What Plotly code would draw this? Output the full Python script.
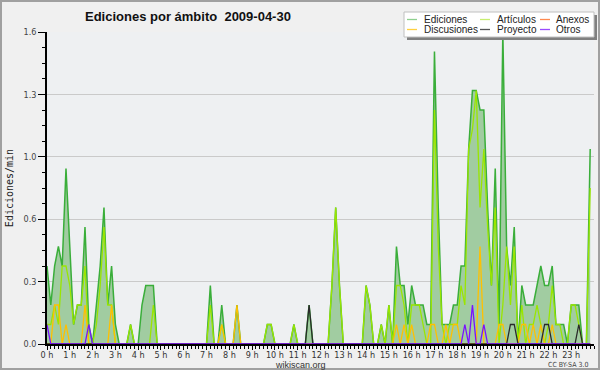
import plotly.graph_objects as go

# ---- data: edits per minute, 10-minute buckets (one row = one hour) ----
minutes = list(range(0, 1440, 10))

ediciones = [
    0.4, 0.2, 0.4, 0.5, 0.4, 0.9,
    0.5, 0.1, 0.2, 0.2, 0.6, 0.1,
    0.0, 0.2, 0.4, 0.7, 0.2, 0.4,
    0.1, 0.0, 0.0, 0.0, 0.1, 0.0,
    0.0, 0.2, 0.3, 0.3, 0.3, 0.0,
    0.0, 0.0, 0.0, 0.0, 0.0, 0.0,
    0.0, 0.0, 0.0, 0.0, 0.0, 0.0,
    0.0, 0.3, 0.0, 0.0, 0.2, 0.0,
    0.0, 0.0, 0.2, 0.0, 0.0, 0.0,
    0.0, 0.0, 0.0, 0.0, 0.1, 0.1,
    0.0, 0.0, 0.0, 0.0, 0.0, 0.1,
    0.0, 0.0, 0.0, 0.2, 0.0, 0.0,
    0.0, 0.0, 0.0, 0.3, 0.7, 0.3,
    0.0, 0.0, 0.0, 0.0, 0.0, 0.0,
    0.3, 0.2, 0.0, 0.0, 0.1, 0.0,
    0.2, 0.0, 0.5, 0.3, 0.3, 0.1,
    0.3, 0.2, 0.2, 0.2, 0.1, 0.1,
    1.5, 0.7, 0.1, 0.1, 0.1, 0.2,
    0.2, 0.4, 0.4, 1.0, 1.3, 1.3,
    1.2, 1.2, 0.7, 0.3, 0.9, 0.1,
    1.6, 0.5, 0.3, 0.6, 0.0, 0.3,
    0.2, 0.2, 0.2, 0.3, 0.4, 0.3,
    0.3, 0.4, 0.1, 0.1, 0.1, 0.0,
    0.2, 0.2, 0.2, 0.0, 0.0, 1.0,
]

articulos = [
    0.1, 0.1, 0.2, 0.1, 0.4, 0.4,
    0.3, 0.1, 0.2, 0.2, 0.4, 0.0,
    0.0, 0.1, 0.3, 0.6, 0.2, 0.2,
    0.0, 0.0, 0.0, 0.0, 0.1, 0.0,
    0.0, 0.0, 0.0, 0.0, 0.2, 0.0,
    0.0, 0.0, 0.0, 0.0, 0.0, 0.0,
    0.0, 0.0, 0.0, 0.0, 0.0, 0.0,
    0.0, 0.2, 0.0, 0.0, 0.1, 0.0,
    0.0, 0.0, 0.0, 0.0, 0.0, 0.0,
    0.0, 0.0, 0.0, 0.0, 0.1, 0.1,
    0.0, 0.0, 0.0, 0.0, 0.0, 0.1,
    0.0, 0.0, 0.0, 0.0, 0.0, 0.0,
    0.0, 0.0, 0.0, 0.3, 0.7, 0.3,
    0.0, 0.0, 0.0, 0.0, 0.0, 0.0,
    0.3, 0.2, 0.0, 0.0, 0.1, 0.0,
    0.2, 0.0, 0.3, 0.3, 0.2, 0.0,
    0.2, 0.2, 0.2, 0.1, 0.0, 0.0,
    1.2, 0.5, 0.1, 0.0, 0.1, 0.1,
    0.1, 0.3, 0.2, 1.0, 1.1, 1.3,
    0.7, 1.0, 0.6, 0.3, 0.7, 0.0,
    0.2, 0.5, 0.2, 0.5, 0.0, 0.2,
    0.0, 0.1, 0.1, 0.2, 0.1, 0.0,
    0.1, 0.3, 0.1, 0.1, 0.0, 0.0,
    0.2, 0.2, 0.1, 0.0, 0.0, 0.8,
]

anexos = [
    0.0, 0.0, 0.0, 0.0, 0.0, 0.0,
    0.0, 0.0, 0.0, 0.0, 0.0, 0.0,
    0.0, 0.0, 0.0, 0.0, 0.0, 0.0,
    0.0, 0.0, 0.0, 0.0, 0.0, 0.0,
    0.0, 0.0, 0.0, 0.0, 0.0, 0.0,
    0.0, 0.0, 0.0, 0.0, 0.0, 0.0,
    0.0, 0.0, 0.0, 0.0, 0.0, 0.0,
    0.0, 0.0, 0.0, 0.0, 0.0, 0.0,
    0.0, 0.0, 0.0, 0.0, 0.0, 0.0,
    0.0, 0.0, 0.0, 0.0, 0.0, 0.0,
    0.0, 0.0, 0.0, 0.0, 0.0, 0.0,
    0.0, 0.0, 0.0, 0.0, 0.0, 0.0,
    0.0, 0.0, 0.0, 0.0, 0.0, 0.0,
    0.0, 0.0, 0.0, 0.0, 0.0, 0.0,
    0.0, 0.0, 0.0, 0.0, 0.0, 0.0,
    0.0, 0.0, 0.0, 0.0, 0.0, 0.0,
    0.0, 0.0, 0.0, 0.0, 0.0, 0.0,
    0.0, 0.0, 0.0, 0.0, 0.0, 0.0,
    0.0, 0.0, 0.0, 0.0, 0.0, 0.0,
    0.0, 0.0, 0.0, 0.0, 0.0, 0.0,
    0.0, 0.0, 0.0, 0.0, 0.0, 0.0,
    0.0, 0.0, 0.0, 0.0, 0.0, 0.0,
    0.0, 0.0, 0.0, 0.0, 0.0, 0.0,
    0.0, 0.0, 0.0, 0.0, 0.0, 0.0,
]

discusiones = [
    0.0, 0.0, 0.2, 0.2, 0.0, 0.1,
    0.0, 0.0, 0.0, 0.0, 0.2, 0.0,
    0.0, 0.0, 0.0, 0.0, 0.0, 0.2,
    0.0, 0.0, 0.0, 0.0, 0.0, 0.0,
    0.0, 0.0, 0.0, 0.0, 0.0, 0.0,
    0.0, 0.0, 0.0, 0.0, 0.0, 0.0,
    0.0, 0.0, 0.0, 0.0, 0.0, 0.0,
    0.0, 0.0, 0.0, 0.0, 0.1, 0.0,
    0.0, 0.0, 0.2, 0.0, 0.0, 0.0,
    0.0, 0.0, 0.0, 0.0, 0.0, 0.0,
    0.0, 0.0, 0.0, 0.0, 0.0, 0.0,
    0.0, 0.0, 0.0, 0.0, 0.0, 0.0,
    0.0, 0.0, 0.0, 0.0, 0.0, 0.0,
    0.0, 0.0, 0.0, 0.0, 0.0, 0.0,
    0.0, 0.0, 0.0, 0.0, 0.0, 0.0,
    0.0, 0.0, 0.1, 0.0, 0.1, 0.0,
    0.1, 0.0, 0.0, 0.0, 0.0, 0.1,
    0.1, 0.0, 0.0, 0.1, 0.0, 0.1,
    0.1, 0.0, 0.0, 0.0, 0.0, 0.0,
    0.5, 0.0, 0.0, 0.0, 0.0, 0.1,
    0.1, 0.0, 0.0, 0.0, 0.0, 0.1,
    0.1, 0.0, 0.1, 0.0, 0.1, 0.0,
    0.0, 0.1, 0.0, 0.0, 0.0, 0.0,
    0.0, 0.0, 0.0, 0.0, 0.0, 0.0,
]

proyecto = [
    0.0, 0.0, 0.0, 0.0, 0.0, 0.0,
    0.0, 0.0, 0.0, 0.0, 0.0, 0.0,
    0.0, 0.0, 0.0, 0.0, 0.0, 0.0,
    0.0, 0.0, 0.0, 0.0, 0.0, 0.0,
    0.0, 0.0, 0.0, 0.0, 0.0, 0.0,
    0.0, 0.0, 0.0, 0.0, 0.0, 0.0,
    0.0, 0.0, 0.0, 0.0, 0.0, 0.0,
    0.0, 0.0, 0.0, 0.0, 0.0, 0.0,
    0.0, 0.0, 0.0, 0.0, 0.0, 0.0,
    0.0, 0.0, 0.0, 0.0, 0.0, 0.0,
    0.0, 0.0, 0.0, 0.0, 0.0, 0.0,
    0.0, 0.0, 0.0, 0.2, 0.0, 0.0,
    0.0, 0.0, 0.0, 0.0, 0.0, 0.0,
    0.0, 0.0, 0.0, 0.0, 0.0, 0.0,
    0.0, 0.0, 0.0, 0.0, 0.0, 0.0,
    0.0, 0.0, 0.0, 0.0, 0.0, 0.0,
    0.0, 0.0, 0.0, 0.0, 0.0, 0.0,
    0.0, 0.0, 0.0, 0.0, 0.0, 0.0,
    0.0, 0.0, 0.0, 0.0, 0.0, 0.0,
    0.0, 0.0, 0.0, 0.0, 0.0, 0.0,
    0.0, 0.0, 0.1, 0.1, 0.0, 0.0,
    0.0, 0.0, 0.0, 0.0, 0.0, 0.1,
    0.1, 0.0, 0.0, 0.0, 0.0, 0.0,
    0.0, 0.0, 0.1, 0.0, 0.0, 0.0,
]

otros = [
    0.1, 0.0, 0.0, 0.0, 0.0, 0.0,
    0.0, 0.0, 0.0, 0.0, 0.0, 0.1,
    0.0, 0.0, 0.0, 0.0, 0.0, 0.0,
    0.0, 0.0, 0.0, 0.0, 0.0, 0.0,
    0.0, 0.0, 0.0, 0.0, 0.0, 0.0,
    0.0, 0.0, 0.0, 0.0, 0.0, 0.0,
    0.0, 0.0, 0.0, 0.0, 0.0, 0.0,
    0.0, 0.0, 0.0, 0.0, 0.0, 0.0,
    0.0, 0.0, 0.0, 0.0, 0.0, 0.0,
    0.0, 0.0, 0.0, 0.0, 0.0, 0.0,
    0.0, 0.0, 0.0, 0.0, 0.0, 0.0,
    0.0, 0.0, 0.0, 0.0, 0.0, 0.0,
    0.0, 0.0, 0.0, 0.0, 0.0, 0.0,
    0.0, 0.0, 0.0, 0.0, 0.0, 0.0,
    0.0, 0.0, 0.0, 0.0, 0.0, 0.0,
    0.0, 0.0, 0.0, 0.0, 0.0, 0.0,
    0.0, 0.0, 0.0, 0.0, 0.0, 0.0,
    0.0, 0.0, 0.0, 0.0, 0.0, 0.0,
    0.0, 0.0, 0.1, 0.0, 0.2, 0.0,
    0.0, 0.1, 0.0, 0.0, 0.0, 0.0,
    0.0, 0.0, 0.0, 0.0, 0.0, 0.0,
    0.0, 0.0, 0.0, 0.0, 0.0, 0.0,
    0.0, 0.0, 0.0, 0.0, 0.0, 0.0,
    0.0, 0.0, 0.0, 0.0, 0.0, 0.0,
]

hour_ticks = list(range(24))
hour_labels = ["0 h", "1 h", "2 h", "3 h", "4 h", "5 h", "6 h", "7 h", "8 h", "9 h",
               "10 h", "11 h", "12 h", "13 h", "14 h", "15 h", "16 h", "17 h",
               "18 h", "19 h", "20 h", "21 h", "22 h", "23 h"]
y_ticks = [0.0, 0.32, 0.64, 0.96, 1.28, 1.6]
y_labels = ["0.0", "0.3", "0.6", "1.0", "1.3", "1.6"]

title_text = "Ediciones por ámbito\u00a0 2009-04-30"
legend_names = ["Ediciones", "Artículos", "Anexos", "Discusiones", "Proyecto", "Otros"]
legend_colors = ["#8fd08f", "#c8ee70", "#ff8a50", "#ffd040", "#555555", "#9a4cff"]

# ---- figure geometry (pixels) ----
W, H = 600, 370
ML, MR, MT, MB = 47, 6, 32, 26
PW, PH = W - ML - MR, H - MT - MB


def px(x):
    return (x - ML) / PW


def py(y):
    return (H - MB - y) / PH


hours = [m / 60 for m in minutes]

NARROW = "Liberation Sans Narrow, DejaVu Sans Condensed, Liberation Sans, Arial, sans-serif"
SANS = "Liberation Sans, Arial, sans-serif"

fig = go.Figure()
fig.add_trace(go.Scatter(x=hours, y=ediciones, name=legend_names[0], mode="lines",
                         line=dict(color="#3aae3a", width=1.5), fill="tozeroy",
                         fillcolor="#a1cca1", showlegend=False))
fig.add_trace(go.Scatter(x=hours, y=articulos, name=legend_names[1], mode="lines",
                         line=dict(color="#9ae600", width=1.3), showlegend=False))
fig.add_trace(go.Scatter(x=hours, y=anexos, name=legend_names[2], mode="lines",
                         line=dict(color="#ff7030", width=1.2), showlegend=False))
fig.add_trace(go.Scatter(x=hours, y=discusiones, name=legend_names[3], mode="lines",
                         line=dict(color="#ffc000", width=1.3), showlegend=False))
fig.add_trace(go.Scatter(x=hours, y=proyecto, name=legend_names[4], mode="lines",
                         line=dict(color="#2a2a2a", width=1.3), showlegend=False))
fig.add_trace(go.Scatter(x=hours, y=otros, name=legend_names[5], mode="lines",
                         line=dict(color="#7a10ff", width=1.3), showlegend=False))

shapes = []
annotations = []

# outer frame
shapes.append(dict(type="rect", xref="paper", yref="paper",
                   x0=px(1), x1=px(W - 1), y0=py(H - 1), y1=py(1),
                   line=dict(color="#a0a0a0", width=2), fillcolor="rgba(0,0,0,0)", layer="above"))

# legend box with shadow
shapes.append(dict(type="rect", xref="paper", yref="paper",
                   x0=px(407), x1=px(597), y0=py(40), y1=py(15),
                   line=dict(width=0), fillcolor="#808080", layer="above"))
shapes.append(dict(type="rect", xref="paper", yref="paper",
                   x0=px(404), x1=px(594), y0=py(37), y1=py(12),
                   line=dict(color="#c0c0c0", width=1), fillcolor="#ffffff", layer="above"))

cols = [(407, 424), (480, 497), (540, 556)]
rows = [19.5, 29.5]
order = [(0, 0, 0), (1, 0, 1), (2, 0, 2), (3, 1, 0), (4, 1, 1), (5, 1, 2)]
for k, r, c in order:
    lx, tx = cols[c]
    yy = rows[r]
    shapes.append(dict(type="line", xref="paper", yref="paper",
                       x0=px(lx), x1=px(lx + 10), y0=py(yy), y1=py(yy),
                       line=dict(color=legend_colors[k], width=1.3), layer="above"))
    annotations.append(dict(text=legend_names[k], xref="paper", yref="paper",
                            x=px(tx - 2), y=py(yy), xanchor="left", yanchor="middle",
                            showarrow=False, font=dict(family=SANS, size=10, color="#222222")))

# title
annotations.append(dict(text="<b>" + title_text + "</b>", xref="paper", yref="paper",
                        x=px(188), y=py(16.5), xanchor="center", yanchor="middle",
                        showarrow=False, font=dict(family=SANS, size=13, color="#111111")))
# footer texts
annotations.append(dict(text="wikiscan.org", xref="paper", yref="paper",
                        x=px(300), y=py(364.5), xanchor="center", yanchor="middle",
                        showarrow=False, font=dict(family=SANS, size=9, color="#333333")))
annotations.append(dict(text="CC BY-SA 3.0", xref="paper", yref="paper",
                        x=px(568), y=py(365), xanchor="center", yanchor="middle",
                        showarrow=False, font=dict(family=NARROW, size=7, color="#444444")))

fig.update_layout(
    width=W, height=H,
    margin=dict(l=ML, r=MR, t=MT, b=MB, pad=0),
    paper_bgcolor="#f0f0f0",
    plot_bgcolor="#eef0f2",
    showlegend=False,
    shapes=shapes,
    annotations=annotations,
    xaxis=dict(
        range=[0, 24], tickmode="array", tickvals=hour_ticks, ticktext=hour_labels,
        ticks="outside", ticklen=4, tickwidth=1, tickcolor="#000000",
        minor=dict(dtick=1 / 6, tick0=0, ticks="outside", ticklen=3, tickcolor="#000000",
                   tickwidth=1, showgrid=False),
        showgrid=False, zeroline=False, showline=True, linecolor="#000000", linewidth=1.5,
        tickfont=dict(family=NARROW, size=9, color="#333333"),
        ticklabelstandoff=-3,
        fixedrange=True,
    ),
    yaxis=dict(
        range=[0, 1.6], tickmode="array", tickvals=y_ticks, ticktext=y_labels,
        ticks="outside", ticklen=7, tickwidth=1, tickcolor="#000000",
        minor=dict(dtick=0.08, tick0=0, ticks="outside", ticklen=3, tickcolor="#000000",
                   tickwidth=1, showgrid=False),
        showgrid=True, gridcolor="#cacaca", gridwidth=1,
        zeroline=False, showline=True, linecolor="#000000", linewidth=1.5,
        tickfont=dict(family=NARROW, size=9, color="#444444"),
        title=dict(text="Ediciones/min", font=dict(family="DejaVu Sans Mono", size=10, color="#222222"),
                   standoff=8),
        fixedrange=True,
    ),
)

fig.write_html("out.html", config={"displayModeBar": False},
               post_script="document.body.style.margin='0';document.body.style.padding='0';")
